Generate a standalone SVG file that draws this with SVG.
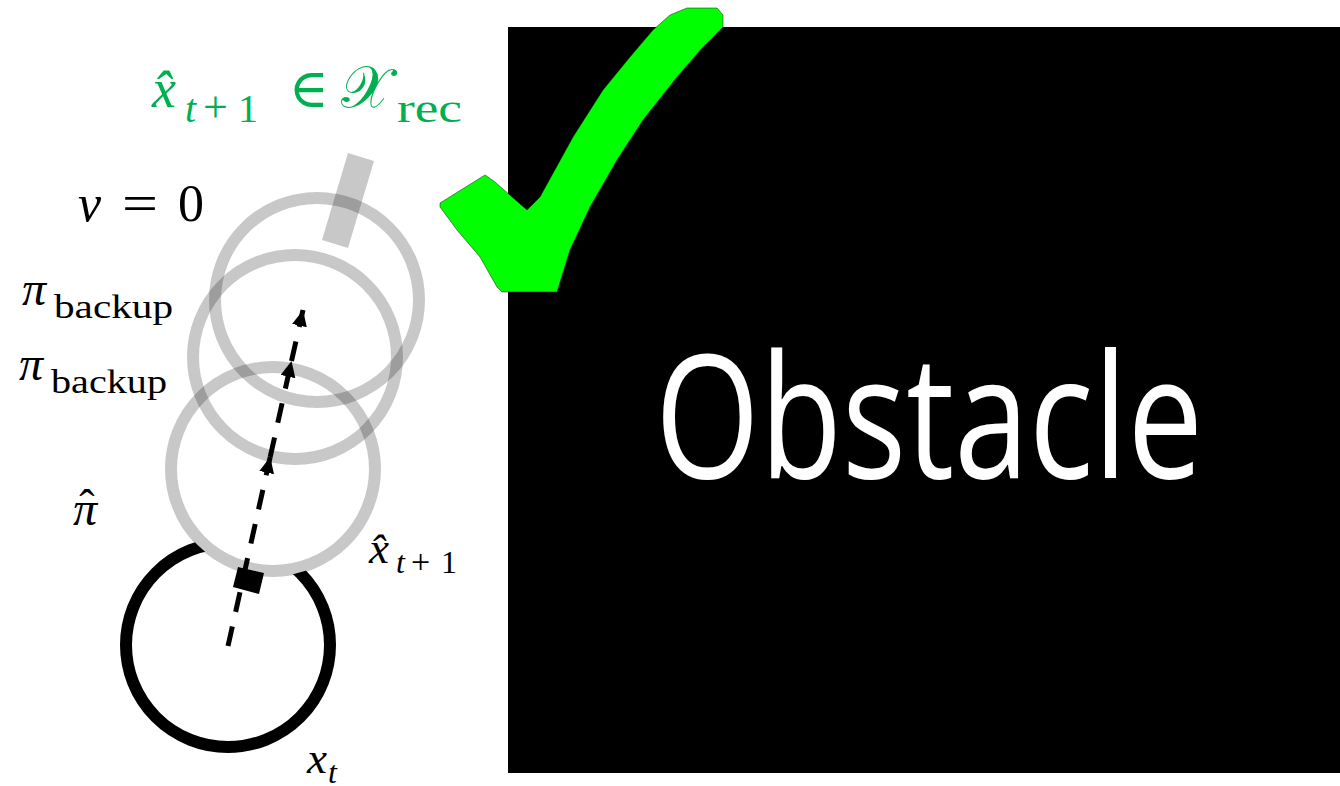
<svg xmlns="http://www.w3.org/2000/svg" width="1340" height="786" viewBox="0 0 1340 786">
  <style>
    .m { font-family: "Liberation Serif", "DejaVu Serif", serif; fill: #000; }
    .it { font-style: italic; }
    .g { fill: #00b050; }
    .ring { fill: none; stroke: #000; stroke-opacity: 0.215; stroke-width: 12; }
    .dash { fill: none; stroke: #000; stroke-width: 5; stroke-dasharray: 20 15; }
  </style>
  <defs>
    <marker id="arr" viewBox="0 0 16 15" refX="16" refY="7.5" markerWidth="16" markerHeight="15" markerUnits="userSpaceOnUse" orient="auto">
      <path d="M0,0 L16,7.5 L0,15 z" fill="#000"/>
    </marker>
  </defs>
  <rect width="1340" height="786" fill="#fff"/>

  <g id="obstacle">
    <rect x="508" y="27" width="832" height="746" fill="#000"/>
    <text x="655" y="478" font-family="Open Sans, Liberation Sans, sans-serif" font-size="172" fill="#fff" textLength="548" lengthAdjust="spacingAndGlyphs">Obstacle</text>
  </g>

  <g id="checkmark">
    <polygon points="440,203 485,175 495,182 527,210 540,197 573,137 603,90 630,57 653,30 670,15 687,8 717,8 723,15 723,27 703,47 677,77 643,120 617,160 590,207 570,250 557,292 502,292 497,287 480,257 457,230 440,207" fill="#00ff00" stroke="#1a1a1a" stroke-width="1" stroke-opacity="0.5"/>
  </g>

  <g id="state-xt">
    <circle cx="228" cy="645" r="102" fill="none" stroke="#000" stroke-width="12"/>
  </g>

  <g id="state-xhat">
    <circle cx="273" cy="469" r="107" fill="#fff"/>
    <circle class="ring" cx="273" cy="469" r="102"/>
  </g>
  <g id="state-backup1">
    <circle class="ring" cx="295" cy="357" r="102"/>
  </g>
  <g id="state-backup2">
    <circle class="ring" cx="317" cy="300" r="102"/>
  </g>
  <g id="stop-bar">
    <polygon points="348,153 374,161 348,248 322,240" fill="#000" fill-opacity="0.215"/>
  </g>

  <g id="connectors">
    <path class="dash" d="M228,646 L270.2,457" marker-end="url(#arr)"/>
    <path class="dash" d="M270.2,457 L291.5,361" marker-end="url(#arr)"/>
    <path class="dash" d="M291.5,361 L303,310" marker-end="url(#arr)"/>
    <polygon points="238,567 264,573 259,594 233,587" fill="#000"/>
  </g>

  <g id="labels">
    <g id="label-rec" class="g">
      <text class="m g it" x="152" y="107" font-size="54">x&#x302;</text>
      <text class="m g it" x="185" y="122" font-size="40">t</text>
      <text class="m g" x="203" y="122" font-size="44">+</text>
      <text class="m g" x="238" y="122" font-size="40">1</text>
      <text class="m g" x="289" y="107" font-size="54">∈</text>
      <text class="m g" x="341" y="107" font-size="58">𝒳</text>
      <text class="m g" x="397" y="122" font-size="40" textLength="65" lengthAdjust="spacingAndGlyphs">rec</text>
    </g>
    <g id="label-v0">
      <text class="m it" x="78" y="221" font-size="52">v</text>
      <text class="m" x="122" y="221" font-size="52" textLength="36" lengthAdjust="spacingAndGlyphs">=</text>
      <text class="m" x="178" y="221" font-size="52">0</text>
    </g>
    <g id="label-backup1">
      <text class="m it" x="22" y="305" font-size="48">π</text>
      <text class="m" x="54" y="318" font-size="33" textLength="119" lengthAdjust="spacingAndGlyphs">backup</text>
    </g>
    <g id="label-backup2">
      <text class="m it" x="19" y="380" font-size="48">π</text>
      <text class="m" x="51" y="393" font-size="33" textLength="116" lengthAdjust="spacingAndGlyphs">backup</text>
    </g>
    <g id="label-pihat">
      <text class="m it" x="73" y="525" font-size="48">π</text>
      <text class="m" x="87" y="522" font-size="46" text-anchor="middle">ˆ</text>
    </g>
    <g id="label-xhat">
      <text class="m it" x="369" y="563" font-size="45">x&#x302;</text>
      <text class="m it" x="396" y="573" font-size="32">t</text>
      <text class="m" x="411" y="573" font-size="34">+</text>
      <text class="m" x="441" y="573" font-size="32">1</text>
    </g>
    <g id="label-xt">
      <text class="m it" x="307" y="773" font-size="45">x</text>
      <text class="m it" x="328" y="783" font-size="32">t</text>
    </g>
  </g>
</svg>
